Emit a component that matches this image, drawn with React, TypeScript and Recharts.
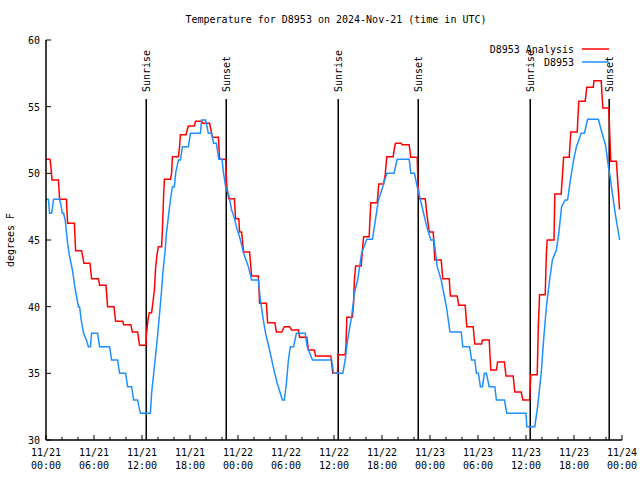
// Temperature for D8953 — gnuplot-style step lines, station vs analysis

import { LineChart, Line, XAxis, YAxis, ReferenceLine } from "recharts";

const FONT = "'DejaVu Sans Mono', 'Liberation Mono', monospace";

const chartTitle = "Temperature for D8953 on 2024-Nov-21 (time in UTC)";
const yLabel = "degrees F";
const seriesNames = ["D8953 Analysis", "D8953"];
const seriesColors = ["#ff0000", "#1e90ff"];

// hours since 11/21 00:00 UTC
const xTicks = Array.from({ length: 37 }, (_, i) => i * 2);
const tickDays = ["11/21", "11/21", "11/21", "11/21", "11/22", "11/22", "11/22", "11/22", "11/23", "11/23", "11/23", "11/23", "11/24"];
const tickTimes = ["00:00", "06:00", "12:00", "18:00", "00:00", "06:00", "12:00", "18:00", "00:00", "06:00", "12:00", "18:00", "00:00"];
const yTicks = [30, 35, 40, 45, 50, 55, 60];

const sunLabels = ["Sunrise", "Sunset", "Sunrise", "Sunset", "Sunrise", "Sunset"];
const sunHours = [12.53, 22.53, 36.53, 46.53, 60.53, 70.4];

// [hour, degF]
const analysisReadings: [number, number][] = [
  [0, 51.05], [0.5, 51.05], [0.6, 50.6], [0.75, 49.5], [1.55, 49.5], [1.7, 48.05], [2.55, 48.05], [2.7, 46.25],
  [3.55, 46.25], [3.7, 44.2], [4.45, 44.2], [4.75, 43.25], [5.5, 43.25], [5.7, 42.1], [6.55, 42.1], [6.7, 41.6],
  [7.5, 41.6], [7.7, 40], [8.5, 40], [8.7, 38.9], [9.6, 38.9], [9.7, 38.65], [10.6, 38.65], [10.8, 38.1],
  [11.45, 38.1], [11.7, 37.1], [12.5, 37.1], [12.55, 37.9], [12.75, 39], [12.9, 39.55], [13.2, 39.55], [13.4, 40.5],
  [13.55, 41.25], [13.7, 42.9], [13.9, 44], [14.05, 44.5], [14.45, 44.5], [14.55, 45.75], [14.7, 48.3], [14.8, 49.55],
  [15.55, 49.55], [15.7, 50], [15.8, 51.25], [16.55, 51.25], [16.7, 52], [16.8, 52.9], [17.5, 52.9], [17.65, 53.25],
  [17.8, 53.55], [18.55, 53.55], [18.7, 53.9], [19.45, 53.9], [19.6, 53.75], [20.45, 53.75], [20.8, 52.7], [21.55, 52.7],
  [21.7, 51.05], [22.45, 51.05], [22.6, 49], [22.85, 48.1], [23.55, 48.1], [23.7, 46.6], [24.1, 46.6], [24.2, 45.6],
  [24.45, 45.6], [24.7, 44.1], [25.45, 44.1], [25.7, 42.3], [26.55, 42.3], [26.7, 40.25], [27.55, 40.25], [27.7, 38.8],
  [28.6, 38.8], [28.8, 38.1], [29.45, 38.1], [29.8, 38.5], [30.45, 38.5], [30.7, 38.25], [31.55, 38.25], [31.7, 37.7],
  [32.6, 37.7], [32.8, 36.75], [33.55, 36.75], [33.7, 36.3], [35.6, 36.3], [35.85, 35], [36.45, 35], [36.5, 36.4],
  [37.4, 36.4], [37.5, 37.1], [37.6, 39.2], [38.3, 39.2], [38.45, 40.25], [38.55, 42], [38.7, 43.05], [39.4, 43.05],
  [39.6, 44.6], [39.7, 45.25], [40.4, 45.25], [40.45, 46], [40.6, 47.8], [41.4, 47.8], [41.6, 49.2], [42.2, 49.2],
  [42.4, 49.9], [42.6, 51.25], [43.4, 51.25], [43.55, 51.9], [43.7, 52.25], [44.4, 52.25], [44.5, 52.15], [45.4, 52.15],
  [45.6, 51.2], [46.4, 51.2], [46.5, 49], [46.7, 48.1], [47.4, 48.1], [47.6, 47], [47.9, 45.6], [48.4, 45.6],
  [48.6, 43.5], [49.4, 43.5], [49.6, 42.1], [50.4, 42.1], [50.55, 40.8], [51.4, 40.8], [51.6, 40.1], [52.4, 40.1],
  [52.6, 38.5], [53.4, 38.5], [53.6, 37.2], [54.45, 37.2], [54.55, 37.5], [55.4, 37.5], [55.6, 35.25], [56.3, 35.25],
  [56.45, 35.85], [57.3, 35.85], [57.5, 34.8], [58.4, 34.8], [58.6, 33.6], [59.4, 33.6], [59.6, 33], [60.45, 33],
  [60.6, 34.9], [61.4, 34.9], [61.55, 38.75], [61.7, 40.9], [62.4, 40.9], [62.55, 44], [62.65, 45], [63.5, 45],
  [63.6, 48.45], [64.4, 48.45], [64.7, 51.2], [65.4, 51.2], [65.6, 53.1], [66.4, 53.1], [66.6, 55.4], [67.4, 55.4],
  [67.6, 56.45], [68.4, 56.45], [68.5, 56.95], [69.4, 56.95], [69.6, 54.9], [70.35, 54.9], [70.6, 50.9], [71.3, 50.9],
  [71.7, 47.3],
];

const stationReadings: [number, number][] = [
  [0, 48.05], [0.3, 48.05], [0.45, 47], [0.7, 47], [0.95, 48.05], [1.7, 48.05], [1.9, 47.5], [2.05, 47],
  [2.2, 47], [2.4, 46.5], [2.55, 45.6], [2.7, 44.75], [2.95, 43.75], [3.3, 42.75], [3.6, 41.5], [3.9, 40.5],
  [4.05, 40], [4.2, 40], [4.4, 39], [4.7, 38], [5.05, 37.5], [5.3, 37], [5.55, 37], [5.7, 38],
  [6.45, 38], [6.7, 37], [7.95, 37], [8.2, 36], [8.95, 36], [9.2, 35], [9.95, 35], [10.2, 34],
  [10.7, 34], [10.95, 33], [11.45, 33], [11.8, 32], [13.05, 32], [13.2, 33.5], [13.55, 35.5], [13.9, 37.5],
  [14.2, 39.5], [14.45, 41.25], [14.6, 42.5], [14.9, 44.25], [15.05, 45.5], [15.3, 46.75], [15.55, 48], [15.8, 49],
  [16.05, 49], [16.2, 50], [16.55, 51], [16.8, 51], [17.05, 52], [17.8, 52], [18.05, 53], [19.3, 53],
  [19.45, 54], [19.95, 54], [20.3, 53], [20.7, 53], [20.95, 52.25], [21.3, 52.25], [21.6, 51.05], [22.0, 51.05],
  [22.2, 50], [22.45, 49], [22.9, 48.25], [23.2, 47.25], [23.5, 46.75], [23.8, 46], [24.3, 45], [24.7, 44],
  [25.3, 43], [25.7, 42], [26.55, 42], [26.8, 40.5], [27.1, 39.25], [27.45, 38], [27.95, 36.75], [28.4, 35.5],
  [28.9, 34.25], [29.55, 33], [29.8, 33], [30.05, 34.25], [30.3, 36], [30.55, 37], [30.95, 37], [31.3, 38],
  [32.4, 38], [32.65, 37], [33.3, 36], [35.7, 36], [35.95, 35], [37.1, 35], [37.4, 36], [37.7, 37.5],
  [38.2, 39.25], [38.55, 41], [38.95, 42], [39.45, 44], [40.1, 45.05], [40.8, 45.05], [41.05, 46], [41.55, 48],
  [42.1, 49], [42.6, 50], [43.5, 50], [43.9, 51.05], [45.4, 51.05], [45.6, 50], [46.05, 50], [46.4, 49],
  [47.1, 47.25], [47.6, 46], [48.1, 45], [48.5, 45], [48.9, 43], [49.4, 42], [50.05, 40], [50.5, 38.1],
  [51.9, 38.1], [52.1, 37], [52.95, 37], [53.2, 36], [53.6, 36], [53.8, 35], [54.05, 35], [54.3, 34],
  [54.55, 34], [54.8, 35], [55.05, 35], [55.4, 34], [56.1, 34], [56.3, 33], [57.3, 33], [57.6, 32],
  [60.0, 32], [60.1, 31], [61.1, 31], [61.45, 32.5], [61.9, 35], [62.2, 37.5], [62.55, 40], [62.95, 42],
  [63.3, 43.5], [63.8, 44.25], [64.1, 45.5], [64.45, 47.5], [64.9, 48], [65.2, 48], [65.55, 49.5], [65.95, 51],
  [66.3, 52], [66.9, 53], [67.3, 53], [67.7, 54.05], [69.05, 54.05], [69.4, 53.25], [69.95, 52.1], [70.3, 50.5],
  [70.45, 50], [70.8, 48.5], [71.15, 47], [71.7, 45],
];

const analysisData = analysisReadings.map(([h, t]) => ({ h, t }));
const stationData = stationReadings.map(([h, t]) => ({ h, t }));

const textStyle = { fontFamily: FONT, fontSize: 10, fill: "#000" };

function BottomTick(p: any) {
  const h = p.payload.value;
  const major = h % 6 === 0;
  const i = h / 6;
  return (
    <g>
      <line x1={p.x} x2={p.x} y1={p.y} y2={p.y - (major ? 5 : 3)} stroke="#000" />
      {major && (
        <text x={p.x} y={p.y + 16} textAnchor="middle" style={textStyle}>
          <tspan x={p.x}>{tickDays[i]}</tspan>
          <tspan x={p.x} dy={13}>{tickTimes[i]}</tspan>
        </text>
      )}
    </g>
  );
}

function TopTick(p: any) {
  const major = p.payload.value % 6 === 0;
  return <line x1={p.x} x2={p.x} y1={p.y} y2={p.y + (major ? 5 : 3)} stroke="#000" />;
}

function LeftTick(p: any) {
  return (
    <g>
      <line x1={p.x} x2={p.x + 5} y1={p.y} y2={p.y} stroke="#000" />
      <text x={p.x - 6} y={p.y + 4} textAnchor="end" style={textStyle}>
        {p.payload.value}
      </text>
    </g>
  );
}

function RightTick(p: any) {
  return <line x1={p.x} x2={p.x - 5} y1={p.y} y2={p.y} stroke="#000" />;
}

function SunLine(label: string) {
  return (p: any) => {
    const top = Math.min(p.y1, p.y2);
    const bottom = Math.max(p.y1, p.y2);
    return (
      <g>
        <line x1={p.x1} x2={p.x1} y1={top + 59} y2={bottom} stroke="#000" strokeWidth={1.5} />
        <text
          x={p.x1 + 4}
          y={top + 52}
          transform={`rotate(-90 ${p.x1 + 4} ${top + 52})`}
          textAnchor="start"
          style={textStyle}
        >
          {label}
        </text>
      </g>
    );
  };
}

export default function App() {
  return (
    <div style={{ position: "absolute", left: 0, top: 0, width: 640, height: 480, background: "#fff" }}>
      <LineChart width={640} height={480} margin={{ top: 40, right: 18, bottom: 0, left: 0 }}>
        <XAxis
          xAxisId="b"
          type="number"
          dataKey="h"
          domain={[0, 72]}
          ticks={xTicks}
          interval={0}
          allowDataOverflow
          height={40}
          tickSize={0}
          tickMargin={0}
          tickLine={false}
          axisLine={{ stroke: "#000", strokeWidth: 1.5 }}
          tick={(p: any) => <BottomTick {...p} />}
        />
        <XAxis
          xAxisId="t"
          orientation="top"
          type="number"
          dataKey="h"
          domain={[0, 72]}
          ticks={xTicks}
          interval={0}
          allowDataOverflow
          height={0}
          tickSize={0}
          tickMargin={0}
          tickLine={false}
          axisLine={{ stroke: "#000", strokeWidth: 1.5 }}
          tick={(p: any) => <TopTick {...p} />}
        />
        <YAxis
          yAxisId="l"
          type="number"
          domain={[30, 60]}
          ticks={yTicks}
          interval={0}
          allowDataOverflow
          width={46}
          tickSize={0}
          tickMargin={0}
          tickLine={false}
          axisLine={{ stroke: "#000", strokeWidth: 1.5 }}
          tick={(p: any) => <LeftTick {...p} />}
        />
        <YAxis
          yAxisId="r"
          orientation="right"
          type="number"
          domain={[30, 60]}
          ticks={yTicks}
          interval={0}
          allowDataOverflow
          width={0}
          tickSize={0}
          tickMargin={0}
          tickLine={false}
          axisLine={{ stroke: "#000", strokeWidth: 1.5 }}
          tick={(p: any) => <RightTick {...p} />}
        />
        {sunHours.map((h, i) => (
          <ReferenceLine key={i} x={h} xAxisId="b" yAxisId="l" shape={SunLine(sunLabels[i])} />
        ))}
        <Line
          xAxisId="b"
          yAxisId="l"
          data={analysisData}
          dataKey="t"
          type="linear"
          stroke={seriesColors[0]}
          strokeWidth={1.5}
          dot={false}
          isAnimationActive={false}
        />
        <Line
          xAxisId="b"
          yAxisId="l"
          data={stationData}
          dataKey="t"
          type="linear"
          stroke={seriesColors[1]}
          strokeWidth={1.5}
          dot={false}
          isAnimationActive={false}
        />
      </LineChart>
      <svg width={640} height={480} style={{ position: "absolute", left: 0, top: 0, pointerEvents: "none" }}>
        <text x={336} y={23} textAnchor="middle" style={textStyle}>
          {chartTitle}
        </text>
        <text x={14} y={240} transform="rotate(-90 14 240)" textAnchor="middle" style={textStyle}>
          {yLabel}
        </text>
        {seriesNames.map((name, i) => (
          <g key={name}>
            <text x={574} y={53 + i * 13} textAnchor="end" style={textStyle}>
              {name}
            </text>
            <line x1={582} x2={609} y1={49 + i * 13} y2={49 + i * 13} stroke={seriesColors[i]} strokeWidth={1.5} />
          </g>
        ))}
      </svg>
    </div>
  );
}
